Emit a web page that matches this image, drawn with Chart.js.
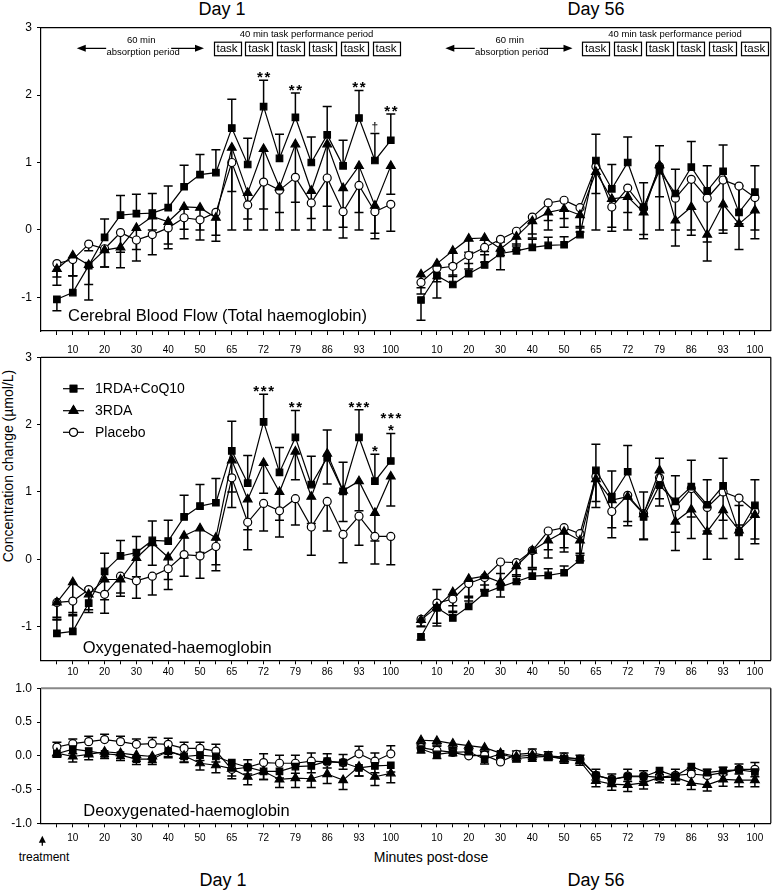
<!DOCTYPE html>
<html><head><meta charset="utf-8">
<script src="https://cdn.jsdelivr.net/npm/chart.js@4.4.1/dist/chart.umd.min.js"></script>
<style>
html,body{margin:0;padding:0;background:#fff}
body{position:relative;width:777px;height:890px;overflow:hidden;font-family:"Liberation Sans",Arial,Helvetica,sans-serif;color:#000}
canvas{position:absolute;left:0}
.t{position:absolute;white-space:nowrap;transform:translate(-50%,-50%);line-height:1}
</style></head><body>
<div class="t" style="left:222px;top:9px;font-size:18px">Day 1</div>
<div class="t" style="left:596px;top:9px;font-size:18px">Day 56</div>
<div class="t" style="left:223px;top:880px;font-size:18px">Day 1</div>
<div class="t" style="left:596px;top:880px;font-size:18px">Day 56</div>
<div class="t" style="left:431px;top:857px;font-size:14px">Minutes post-dose</div>
<div class="t" style="left:44px;top:857px;font-size:12px">treatment</div>
<div class="t" style="left:8px;top:466px;font-size:14px;transform:translate(-50%,-50%) rotate(-90deg)">Concentration change (µmol/L)</div>
<canvas id="c1" width="777" height="362" style="top:0"></canvas>
<canvas id="c2" width="777" height="345" style="top:340px"></canvas>
<canvas id="c3" width="777" height="200" style="top:670px"></canvas>
<script>
const FONT = '"Liberation Sans", Arial, Helvetica, sans-serif';
const seriesNames = ['1RDA+CoQ10', '3RDA', 'Placebo'];
const xTickLabels = ['', '10', '', '20', '', '30', '', '40', '', '50', '', '65', '', '72', '', '79', '', '86', '', '93', '', '100'];
const panelLabels = ['Cerebral Blood Flow (Total haemoglobin)', 'Oxygenated-haemoglobin', 'Deoxygenated-haemoglobin'];
const yTicksMain = [-1, 0, 1, 2, 3];
const yTicksDeoxy = [-1, -0.5, 0, 0.5, 1];
const DAY56_OFFSET = 22.9;
const DAY56_ANNOT_SHIFT = 0.28;

// ---- Cerebral blood flow (total haemoglobin) ----
const sqTop1 = [-1.03,-0.93,-0.53,-0.11,0.22,0.24,0.25,0.33,0.64,0.82,0.85,1.51,0.97,1.83,1.06,1.67,1.0,1.41,0.95,1.66,1.03,1.33];
const sqTop1Err = [-0.17,0.25,-0.51,0.27,0.29,0.29,0.29,0.32,0.32,0.3,0.34,0.43,0.39,0.39,0.36,0.36,0.38,0.42,0.38,0.41,0.4,0.39];
const triTop1 = [-0.58,-0.38,-0.52,-0.3,-0.26,0.03,0.2,0.12,0.34,0.33,0.18,1.22,0.55,1.2,0.63,1.27,0.58,1.27,0.62,0.95,0.36,0.95];
const triTop1Err = [-0.24,-0.3,-0.29,-0.25,-0.3,-0.32,-0.2,-0.33,-0.33,-0.33,-0.35,-0.65,-0.39,-0.89,-0.37,-0.86,-0.41,-0.92,-0.58,-0.69,-0.41,-0.42];
const circTop1 = [-0.5,-0.44,-0.21,-0.28,-0.04,-0.15,-0.07,0.03,0.18,0.15,0.26,1.0,0.37,0.71,0.59,0.78,0.4,0.77,0.27,0.66,0.27,0.38];
const circTop1Err = [-0.2,-0.24,-0.1,-0.27,-0.29,-0.31,-0.3,-0.31,-0.31,-0.3,-0.34,-1.0,-0.37,-0.71,-0.59,-0.78,-0.4,-0.77,-0.39,-0.66,-0.4,-0.4];
const sqTop56 = [-1.04,-0.68,-0.81,-0.65,-0.52,-0.35,-0.31,-0.26,-0.23,-0.22,-0.07,1.03,0.61,1.0,0.34,0.88,0.54,0.93,0.58,0.87,0.26,0.56];
const sqTop56Err = [-0.3,-0.33,0.14,0.15,0.15,0.17,0.1,0.12,0.12,0.12,0.1,0.39,0.36,0.38,0.36,0.37,0.36,0.38,0.37,0.39,0.39,0.39];
const triTop56 = [-0.66,-0.5,-0.31,-0.13,-0.12,-0.28,-0.1,0.13,0.26,0.31,0.22,0.86,0.46,0.49,0.26,0.96,0.14,0.34,-0.07,0.38,0.09,0.29];
const triTop56Err = [-0.2,-0.22,-0.2,-0.2,-0.2,-0.31,-0.2,-0.25,-0.26,-0.27,-0.25,-0.32,-0.48,-0.23,-0.39,-0.96,-0.38,-0.42,-0.39,-0.43,-0.38,-0.42];
const circTop56 = [-0.78,-0.57,-0.54,-0.38,-0.26,-0.14,-0.02,0.19,0.4,0.44,0.33,0.94,0.34,0.62,0.32,0.94,0.47,0.75,0.47,0.74,0.65,0.48];
const circTop56Err = [-0.17,-0.2,-0.15,-0.2,-0.22,-0.24,-0.22,-0.25,-0.26,-0.27,-0.28,-0.94,-0.3,-0.62,-0.39,-0.45,-0.47,-0.75,-0.65,-0.74,-0.56,-0.48];

// ---- Oxygenated haemoglobin ----
const sqMid1 = [-1.1,-1.07,-0.65,-0.18,0.05,0.1,0.28,0.27,0.63,0.79,0.84,1.61,1.13,2.04,1.29,1.81,1.11,1.51,1.01,1.81,1.16,1.46];
const sqMid1Err = [0.2,0.25,0.22,0.27,0.23,0.24,0.29,0.31,0.32,0.32,0.36,0.44,0.41,0.41,0.37,0.4,0.42,0.41,0.43,0.41,0.4,0.41];
const triMid1 = [-0.64,-0.34,-0.52,-0.3,-0.3,0.02,0.24,0.03,0.35,0.46,0.32,1.47,0.89,1.43,1.0,1.6,0.93,1.57,1.02,1.16,0.69,1.23];
const triMid1Err = [-0.25,-0.45,-0.27,-0.3,-0.25,-0.28,-0.33,-0.33,-0.33,-0.36,-0.4,-0.7,-0.45,-0.45,-0.42,-0.42,-0.4,-0.45,-0.46,-0.44,-0.42,-0.44];
const circMid1 = [-0.64,-0.62,-0.45,-0.52,-0.25,-0.32,-0.25,-0.14,0.07,0.05,0.19,1.21,0.55,0.83,0.72,0.9,0.48,0.86,0.37,0.64,0.34,0.34];
const circMid1Err = [-0.22,-0.22,-0.3,-0.28,-0.25,-0.26,-0.28,-0.31,-0.32,-0.33,-0.36,-0.21,-0.41,-0.41,-0.39,-0.39,-0.42,-0.44,-0.42,-0.43,-0.41,-0.42];
const sqMid56 = [-1.15,-0.72,-0.87,-0.7,-0.5,-0.41,-0.33,-0.25,-0.24,-0.2,-0.01,1.32,0.93,1.3,0.63,1.1,0.86,1.08,0.81,1.09,0.4,0.8];
const sqMid56Err = [-0.05,0.27,0.1,0.15,0.12,0.2,0.1,0.1,0.1,0.1,0.1,0.39,0.38,0.39,0.37,0.4,0.38,0.39,0.37,0.41,0.4,0.38];
const triMid56 = [-0.9,-0.71,-0.49,-0.29,-0.25,-0.34,-0.1,0.13,0.28,0.41,0.28,1.19,0.88,0.93,0.67,1.32,0.56,0.74,0.41,0.73,0.43,0.66];
const triMid56Err = [-0.1,-0.28,-0.2,-0.28,-0.2,-0.22,-0.25,-0.26,-0.26,-0.3,-0.3,-0.42,-0.41,-0.43,-0.38,-0.42,-0.43,-0.43,-0.41,-0.42,-0.43,-0.43];
const circMid56 = [-0.89,-0.65,-0.59,-0.36,-0.27,-0.04,-0.05,0.13,0.42,0.47,0.38,1.23,0.71,0.95,0.68,1.21,0.78,1.05,0.77,1.0,0.91,0.71];
const circMid56Err = [-0.1,-0.3,-0.2,-0.26,-0.2,-0.33,-0.2,-0.25,-0.28,-0.3,-0.32,-0.37,-0.39,-0.39,-0.38,-0.42,-0.38,-0.42,-0.35,-0.42,-0.4,-0.41];

// ---- Deoxygenated haemoglobin ----
const sqBot1 = [0.03,0.1,0.07,0.03,0.01,-0.05,-0.05,0.07,-0.01,0.01,-0.01,-0.1,-0.17,-0.23,-0.23,-0.16,-0.15,-0.08,-0.1,-0.18,-0.15,-0.14];
const sqBot1Err = [-0.05,-0.07,-0.07,-0.07,-0.08,-0.08,-0.08,-0.08,-0.08,-0.08,-0.08,-0.1,-0.1,-0.12,-0.1,-0.1,-0.1,-0.1,-0.1,-0.12,-0.1,-0.1];
const triBot1 = [0.04,-0.01,0.02,0.06,0.04,0.01,-0.01,0.07,0.0,-0.11,-0.14,-0.19,-0.31,-0.23,-0.35,-0.33,-0.34,-0.27,-0.36,-0.16,-0.31,-0.26];
const triBot1Err = [-0.05,-0.08,-0.08,-0.07,-0.08,-0.09,-0.09,-0.1,-0.1,-0.1,-0.11,-0.11,-0.12,-0.12,-0.12,-0.14,-0.13,-0.14,-0.14,-0.14,-0.13,-0.14];
const circBot1 = [0.13,0.18,0.21,0.24,0.21,0.17,0.18,0.17,0.11,0.11,0.07,-0.2,-0.17,-0.1,-0.11,-0.11,-0.08,-0.09,-0.1,0.03,-0.08,0.03];
const circBot1Err = [0.07,0.07,0.08,0.08,0.08,0.08,0.09,0.09,0.09,0.09,0.1,-0.14,0.11,0.13,0.12,0.12,0.12,0.12,0.12,0.11,0.12,0.12];
const sqBot56 = [0.1,0.02,0.05,0.06,-0.05,0.03,-0.04,-0.02,-0.01,-0.04,-0.05,-0.29,-0.35,-0.31,-0.31,-0.22,-0.3,-0.16,-0.25,-0.22,-0.21,-0.24];
const sqBot56Err = [-0.06,-0.06,-0.05,-0.05,-0.07,-0.06,-0.05,-0.06,-0.05,-0.05,-0.05,-0.07,-0.08,-0.07,-0.07,-0.06,-0.07,-0.06,-0.07,-0.06,-0.06,-0.07];
const triBot56 = [0.23,0.22,0.18,0.15,0.12,0.04,-0.01,0.01,-0.01,-0.05,-0.08,-0.37,-0.42,-0.43,-0.4,-0.32,-0.32,-0.4,-0.43,-0.35,-0.36,-0.36];
const triBot56Err = [-0.07,-0.06,-0.06,-0.06,-0.06,-0.06,-0.06,-0.06,-0.06,-0.06,-0.06,-0.09,-0.09,-0.1,-0.09,-0.08,-0.1,-0.1,-0.09,-0.1,-0.1,-0.1];
const circBot56 = [0.12,0.08,0.05,0.0,0.01,-0.09,0.02,0.04,0.0,-0.02,-0.05,-0.29,-0.35,-0.3,-0.3,-0.32,-0.29,-0.27,-0.29,-0.25,-0.2,-0.2];
const circBot56Err = [0.06,0.06,0.05,0.05,0.05,0.05,0.05,0.06,0.06,0.06,0.06,0.09,0.08,0.1,0.08,0.08,0.09,0.09,0.09,0.08,0.08,0.1];

// significance marks (index in Day 1, symbol)
const sigTop = [[13,'**'],[15,'**'],[19,'**'],[20,'†'],[21,'**']];
const sigMid = [[13,'***'],[15,'**'],[19,'***'],[20,'*'],[21,'*'],[21,'***']];

// annotation anchors (in time-slot units)
const taskBoxStart = 10.7, taskTitleAt = 15.7, absorbCenter = 5.3, absorbFrom = 1.25, absorbTo = 9.25;

const seriesStyle = [
  {pointStyle:'rect', radius:4.6, fill:'#000'},
  {pointStyle:'triangle', radius:5, fill:'#000'},
  {pointStyle:'circle', radius:4, fill:'#fff'}
];

const tickPositions = [];
for (let i = 0; i < xTickLabels.length; i++) tickPositions.push(i);
for (let i = 0; i < xTickLabels.length; i++) tickPositions.push(i + DAY56_OFFSET);

function labelForX(v){
  const idx = v < DAY56_OFFSET - 0.5 ? Math.round(v) : Math.round(v - DAY56_OFFSET);
  return xTickLabels[idx] ?? '';
}

function buildDatasets(values, errors){
  const ds = [];
  values.forEach((pair, s) => {
    pair.forEach((arr, d) => {
      const st = seriesStyle[s];
      ds.push({
        label: seriesNames[s],
        data: arr.map((v, i) => ({x: i + (d ? DAY56_OFFSET : 0), y: v})),
        errs: errors[s][d],
        borderColor:'#000', borderWidth:1.2, backgroundColor: st.fill,
        pointStyle: st.pointStyle, pointRadius: st.radius, pointHoverRadius: st.radius,
        pointBackgroundColor: st.fill, pointBorderColor:'#000', pointBorderWidth:1.2,
        tension:0, fill:false
      });
    });
  });
  return ds;
}

function drawErrorBars(chart){
  const ctx = chart.ctx, ys = chart.scales.y;
  ctx.save();
  ctx.strokeStyle = '#000'; ctx.lineWidth = 1.5;
  chart.data.datasets.forEach((ds, di) => {
    const meta = chart.getDatasetMeta(di);
    ds.errs.forEach((e, i) => {
      const el = meta.data[i]; if (!el) return;
      const x = el.x, y = el.y;
      const y2 = ys.getPixelForValue(ds.data[i].y + e);
      ctx.beginPath();
      ctx.moveTo(x, y); ctx.lineTo(x, y2);
      ctx.moveTo(x - 4.5, y2); ctx.lineTo(x + 4.5, y2);
      ctx.stroke();
    });
  });
  ctx.restore();
}

function arrowHead(ctx, x, y, dir){
  ctx.beginPath();
  ctx.moveTo(x, y);
  ctx.lineTo(x - dir * 9, y - 3.5);
  ctx.lineTo(x - dir * 9, y + 3.5);
  ctx.closePath(); ctx.fill();
}

function drawTopAnnot(chart){
  const {ctx, chartArea: a} = chart; const x = chart.scales.x;
  ctx.save(); ctx.fillStyle = '#000'; ctx.strokeStyle = '#000';
  [0, DAY56_OFFSET + DAY56_ANNOT_SHIFT].forEach(off => {
    ctx.textAlign = 'center'; ctx.textBaseline = 'middle';
    ctx.font = '9.5px ' + FONT;
    ctx.fillText('40 min task performance period', x.getPixelForValue(taskTitleAt + off), a.top + 6.5);
    ctx.font = '11.5px ' + FONT; ctx.lineWidth = 1.2;
    for (let k = 0; k < 6; k++){
      const cx = x.getPixelForValue(taskBoxStart + 2 * k + off);
      ctx.strokeRect(Math.round(cx - 13.5) + 0.5, a.top + 14.5, 27, 13.5);
      ctx.fillText('task', cx, a.top + 21.5);
    }
    ctx.font = '9.5px ' + FONT;
    const cx = x.getPixelForValue(absorbCenter + off);
    ctx.fillText('60 min', cx, a.top + 13);
    ctx.fillText('absorption period', cx + 2, a.top + 24.6);
    const xl = x.getPixelForValue(absorbFrom + off), xr = x.getPixelForValue(absorbTo + off), ya = a.top + 20.6;
    ctx.lineWidth = 1.2;
    ctx.beginPath(); ctx.moveTo(xl + 4, ya); ctx.lineTo(cx - 35, ya);
    ctx.moveTo(cx + 30, ya); ctx.lineTo(xr - 4, ya); ctx.stroke();
    arrowHead(ctx, xl, ya, -1); arrowHead(ctx, xr, ya, 1);
  });
  ctx.restore();
}

function drawLegend(chart){
  const {ctx, chartArea: a} = chart;
  ctx.save();
  const rows = [31.4, 53.4, 75];
  seriesNames.forEach((name, s) => {
    const y = a.top + rows[s];
    ctx.strokeStyle = '#000'; ctx.lineWidth = 1.2;
    ctx.beginPath(); ctx.moveTo(a.left + 22, y); ctx.lineTo(a.left + 43, y); ctx.stroke();
    const st = seriesStyle[s];
    ctx.fillStyle = st.fill;
    Chart.helpers.drawPoint(ctx, {pointStyle: st.pointStyle, radius: st.radius, borderWidth: 1.2}, a.left + 32.5, y);
    ctx.fill(); ctx.stroke();
    ctx.fillStyle = '#000'; ctx.font = '14px ' + FONT; ctx.textAlign = 'left'; ctx.textBaseline = 'middle';
    ctx.fillText(name, a.left + 54, y + 0.5);
  });
  ctx.restore();
}

function drawSig(chart, sig){
  const {ctx} = chart; const ys = chart.scales.y;
  const ds = chart.data.datasets[0]; const meta = chart.getDatasetMeta(0);
  const stack = {};
  ctx.save(); ctx.fillStyle = '#000'; ctx.textAlign = 'center'; ctx.textBaseline = 'alphabetic';
  sig.forEach(([i, t]) => {
    const k = stack[i] || 0; stack[i] = k + 1;
    const top = ys.getPixelForValue(ds.data[i].y + ds.errs[i]);
    const cx = meta.data[i].x;
    if (t === '†'){
      ctx.font = '12px ' + FONT;
      ctx.fillText('†', cx, top - 3);
      return;
    }
    ctx.font = 'bold 15px ' + FONT;
    const n = t.length, sp = 7.5;
    for (let j = 0; j < n; j++){
      ctx.fillText('*', cx + (j - (n - 1) / 2) * sp, top + 2 - k * 12);
    }
  });
  ctx.restore();
}

function makePanel(cfg){
  const plugin = {
    id: 'panel' + cfg.id,
    beforeDatasetsDraw(chart){ drawErrorBars(chart); },
    afterDraw(chart){
      const {ctx, chartArea: a} = chart;
      ctx.save();
      ctx.lineWidth = cfg.topWidth; ctx.strokeStyle = cfg.topColor;
      ctx.beginPath(); ctx.moveTo(a.left, a.top); ctx.lineTo(a.right, a.top); ctx.stroke();
      ctx.lineWidth = 1.2; ctx.strokeStyle = '#000';
      ctx.beginPath(); ctx.moveTo(a.right, a.top); ctx.lineTo(a.right, a.bottom); ctx.stroke();
      ctx.fillStyle = '#000'; ctx.font = '16.5px ' + FONT; ctx.textAlign = 'left'; ctx.textBaseline = 'middle';
      ctx.fillText(cfg.label, a.left + cfg.labelDx, a.bottom - cfg.labelDy);
      if (cfg.treatment){
        const tx = 42.3, y1 = a.bottom + 22.5, y0 = a.bottom + 12.5;
        ctx.lineWidth = 1.3;
        ctx.beginPath(); ctx.moveTo(tx, y1); ctx.lineTo(tx, y0 + 4); ctx.stroke();
        ctx.beginPath(); ctx.moveTo(tx, y0); ctx.lineTo(tx - 3.5, y0 + 7); ctx.lineTo(tx + 3.5, y0 + 7); ctx.closePath(); ctx.fill();
      }
      ctx.restore();
      if (cfg.annot) drawTopAnnot(chart);
      if (cfg.legend) drawLegend(chart);
      if (cfg.sig) drawSig(chart, cfg.sig);
    }
  };
  return new Chart(document.getElementById(cfg.id), {
    type: 'line',
    data: { datasets: buildDatasets(cfg.values, cfg.errors) },
    options: {
      responsive: false, animation: false, devicePixelRatio: 1,
      layout: { padding: { top: cfg.padTop, right: 1.3, bottom: 0, left: 0 } },
      plugins: { legend: { display: false }, tooltip: { enabled: false } },
      events: [],
      scales: {
        x: {
          type: 'linear', min: -1, max: 44.9,
          afterBuildTicks: s => { s.ticks = tickPositions.map(v => ({value: v})); },
          afterFit: s => { s.height = cfg.xAxisH; },
          grid: { drawOnChartArea: false, drawTicks: true, tickLength: 4, color: '#000', lineWidth: 1 },
          border: { display: true, color: '#000', width: 1.2 },
          ticks: { autoSkip: false, maxRotation: 0, padding: cfg.xTickPad, color: '#000',
                   font: { size: 10, family: FONT }, callback: v => labelForX(v) }
        },
        y: {
          min: cfg.yMin, max: cfg.yMax,
          afterBuildTicks: s => { s.ticks = cfg.yTicks.map(v => ({value: v})); },
          afterFit: s => { s.width = 41; },
          grid: { drawOnChartArea: false, drawTicks: true, tickLength: 4, color: '#000', lineWidth: 1 },
          border: { display: true, color: '#000', width: 1.2 },
          ticks: { padding: 5, color: '#000', font: { size: 12, family: FONT }, callback: cfg.yFmt }
        }
      }
    },
    plugins: [plugin]
  });
}

makePanel({
  id: 'c1', padTop: 27.7, xAxisH: 31, xTickPad: 9.7,
  yMin: -1.5, yMax: 3, yTicks: yTicksMain, yFmt: v => String(v),
  values: [[sqTop1, sqTop56], [triTop1, triTop56], [circTop1, circTop56]],
  errors: [[sqTop1Err, sqTop56Err], [triTop1Err, triTop56Err], [circTop1Err, circTop56Err]],
  label: panelLabels[0], labelDx: 27, labelDy: 14.3,
  topColor: '#000', topWidth: 1.2, annot: true, sig: sigTop
});
makePanel({
  id: 'c2', padTop: 17.3, xAxisH: 24.7, xTickPad: 2.4,
  yMin: -1.5, yMax: 3, yTicks: yTicksMain, yFmt: v => String(v),
  values: [[sqMid1, sqMid56], [triMid1, triMid56], [circMid1, circMid56]],
  errors: [[sqMid1Err, sqMid56Err], [triMid1Err, triMid56Err], [circMid1Err, circMid56Err]],
  label: panelLabels[1], labelDx: 41.7, labelDy: 12,
  topColor: '#000', topWidth: 1.2, legend: true, sig: sigMid
});
makePanel({
  id: 'c3', padTop: 18.3, xAxisH: 46.7, xTickPad: 5,
  yMin: -1, yMax: 1, yTicks: yTicksDeoxy, yFmt: v => v.toFixed(1),
  values: [[sqBot1, sqBot56], [triBot1, triBot56], [circBot1, circBot56]],
  errors: [[sqBot1Err, sqBot56Err], [triBot1Err, triBot56Err], [circBot1Err, circBot56Err]],
  label: panelLabels[2], labelDx: 42.3, labelDy: 12.3,
  topColor: '#888', topWidth: 2, treatment: true
});
</script>
</body></html>
